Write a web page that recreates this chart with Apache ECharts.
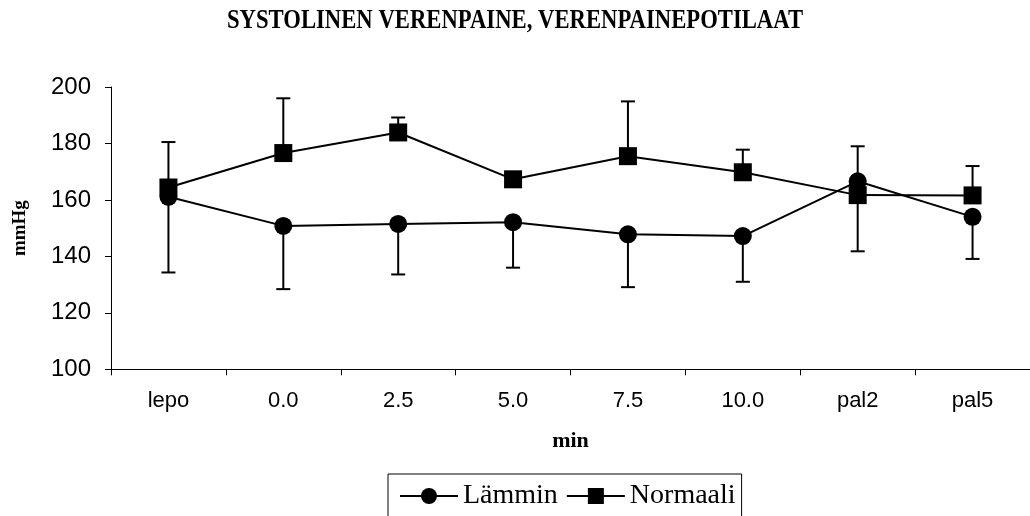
<!DOCTYPE html>
<html>
<head>
<meta charset="utf-8">
<script src="https://cdn.jsdelivr.net/npm/echarts@6/dist/echarts.min.js"></script>
<style>
html,body{margin:0;padding:0;background:#fff;}
#chart{width:1030px;height:516px;}
</style>
</head>
<body>
<div id="chart"></div>
<script>
const categories = ['lepo', '0.0', '2.5', '5.0', '7.5', '10.0', 'pal2', 'pal5'];
const lamminValues = [161.1, 150.8, 151.5, 152.1, 147.8, 147.2, 166.6, 154.0];
const lamminErrMinus = [26.8, 22.4, 17.9, 16.1, 18.7, 16.2, 24.8, 14.9];
const normaaliValues = [164.4, 176.6, 183.9, 167.3, 175.5, 169.8, 161.7, 161.6];
const normaaliErrPlus = [16.1, 19.4, 5.3, 1.5, 19.4, 8.0, 17.3, 10.4];
const yTicks = [100, 120, 140, 160, 180, 200];
const titleText = 'SYSTOLINEN VERENPAINE, VERENPAINEPOTILAAT';

const chart = echarts.init(document.getElementById('chart'), null, {renderer: 'canvas'});

const lamminErrData = lamminValues.map((v, i) => [i, v - lamminErrMinus[i], v]);
const normaaliErrData = normaaliValues.map((v, i) => [i, v, v + normaaliErrPlus[i]]);

function errRender(params, api) {
  const x = api.value(0);
  const lo = api.coord([x, api.value(1)]);
  const hi = api.coord([x, api.value(2)]);
  const cap = 7;
  const style = {stroke: '#000', lineWidth: 2};
  return {
    type: 'group',
    children: [
      {type: 'line', shape: {x1: lo[0], y1: lo[1], x2: hi[0], y2: hi[1]}, style: style},
      {type: 'line', shape: {x1: lo[0] - cap, y1: lo[1], x2: lo[0] + cap, y2: lo[1]}, style: style},
      {type: 'line', shape: {x1: hi[0] - cap, y1: hi[1], x2: hi[0] + cap, y2: hi[1]}, style: style}
    ]
  };
}

const option = {
  backgroundColor: '#fff',
  animation: false,
  graphic: [{
    type: 'text',
    left: 'center',
    top: 7,
    scaleX: 0.81,
    originX: 0,
    style: {
      text: titleText,
      font: 'bold 28px "Liberation Serif"',
      fill: '#000'
    }
  }],
  legend: {
    data: ['Lämmin', 'Normaali'],
    left: 388,
    top: 474,
    orient: 'horizontal',
    itemWidth: 58,
    itemHeight: 20,
    itemGap: 8,
    padding: [8, 6, 20, 11],
    borderColor: '#000',
    borderWidth: 1,
    borderRadius: 0,
    textStyle: {fontFamily: 'Liberation Serif', fontSize: 28, color: '#000'}
  },
  grid: {left: 111, right: -3, top: 87, height: 282.3, containLabel: false},
  xAxis: {
    type: 'category',
    data: categories,
    boundaryGap: true,
    name: 'min',
    nameLocation: 'middle',
    nameGap: 61,
    nameTextStyle: {fontFamily: 'Liberation Serif', fontWeight: 'bold', fontSize: 22, color: '#000'},
    axisLine: {lineStyle: {color: '#000', width: 1}},
    axisTick: {show: true, length: 6, lineStyle: {color: '#000'}},
    axisLabel: {fontFamily: 'Liberation Sans', fontSize: 22, color: '#000', margin: 21},
    splitLine: {show: false}
  },
  yAxis: {
    type: 'value',
    min: yTicks[0],
    max: yTicks[yTicks.length - 1],
    interval: 20,
    name: 'mmHg',
    nameLocation: 'middle',
    nameRotate: 90,
    nameGap: 81,
    nameTextStyle: {fontFamily: 'Liberation Serif', fontWeight: 'bold', fontSize: 19, color: '#000'},
    axisLine: {show: true, lineStyle: {color: '#000', width: 1}},
    axisTick: {show: true, length: 6, lineStyle: {color: '#000'}},
    axisLabel: {fontFamily: 'Liberation Sans', fontSize: 24, color: '#000', margin: 20},
    splitLine: {show: false}
  },
  series: [
    {
      name: 'LamminErr', type: 'custom', renderItem: errRender,
      data: lamminErrData, encode: {x: 0, y: [1, 2]}, z: 1, silent: true
    },
    {
      name: 'NormaaliErr', type: 'custom', renderItem: errRender,
      data: normaaliErrData, encode: {x: 0, y: [1, 2]}, z: 1, silent: true
    },
    {
      name: 'Lämmin', type: 'line', data: lamminValues,
      symbol: 'circle', symbolSize: 18,
      lineStyle: {color: '#000', width: 2},
      itemStyle: {color: '#000'},
      z: 3
    },
    {
      name: 'Normaali', type: 'line', data: normaaliValues,
      symbol: 'rect', symbolSize: 18,
      lineStyle: {color: '#000', width: 2},
      itemStyle: {color: '#000'},
      z: 3
    }
  ]
};
chart.setOption(option);
</script>
</body>
</html>
